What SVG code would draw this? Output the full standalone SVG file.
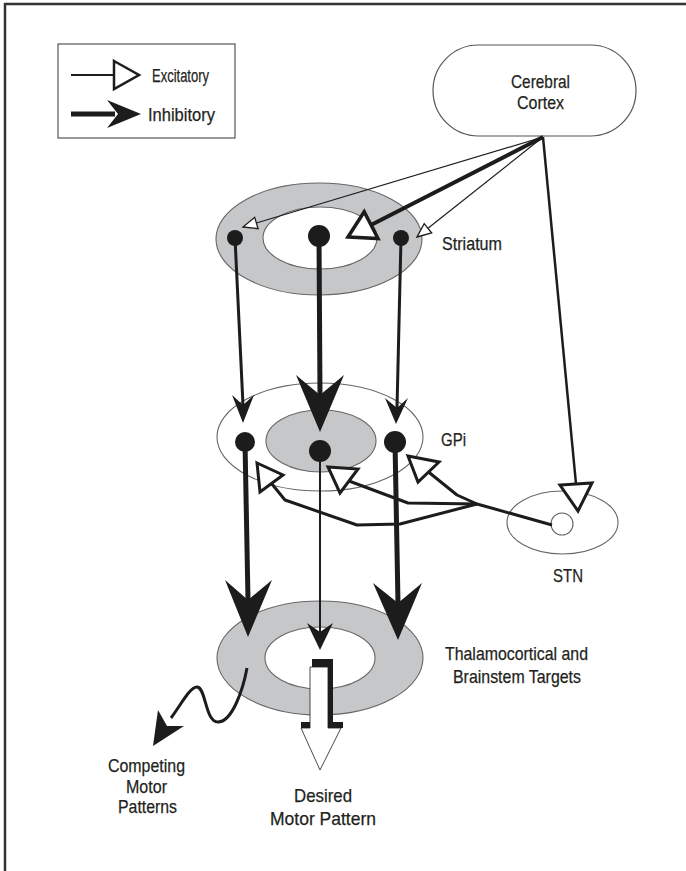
<svg xmlns="http://www.w3.org/2000/svg" width="686" height="871" viewBox="0 0 686 871">
<style>
.t{font-family:"Liberation Sans Narrow","Liberation Sans",Arial,sans-serif;font-size:19px;fill:#231f20;stroke:#231f20;stroke-width:0.25}
.ol{stroke:#666;stroke-width:1.1}
.g{fill:#c6c7c9}
.w{fill:#fff}
.dot{fill:#1c1c1c}
.ln{stroke:#1c1c1c;fill:none;stroke-linecap:butt}
.hd{fill:#1c1c1c}
.ex{fill:#fff;stroke:#1c1c1c;stroke-linejoin:miter}
</style>
<rect x="0" y="0" width="686" height="871" fill="#fff"/>
<path d="M4,4 H686 M5,3 V871" stroke="#333" stroke-width="2.5" fill="none"/>
<g id="legend">
<rect x="58" y="44" width="177" height="94" fill="#fff" stroke="#555" stroke-width="1.2"/>
<line x1="71" y1="75" x2="114" y2="75" class="ln" stroke-width="2"/>
<polygon points="114,61 139,75 114,89" class="ex" stroke-width="2.5"/>
<text x="152" y="82" class="t" textLength="57" lengthAdjust="spacingAndGlyphs">Excitatory</text>
<line x1="71" y1="114" x2="115" y2="114" class="ln" stroke-width="5"/>
<polygon points="141,114 107,100 118,114 107,128" class="hd"/>
<text x="148" y="121" class="t" textLength="67" lengthAdjust="spacingAndGlyphs">Inhibitory</text>
</g>
<g id="cortex">
<rect x="433" y="45" width="203" height="91" rx="45.5" ry="45.5" fill="#fff" stroke="#555" stroke-width="1.2"/>
<text x="511" y="88" class="t" textLength="59" lengthAdjust="spacingAndGlyphs">Cerebral</text>
<text x="517" y="109" class="t" textLength="47" lengthAdjust="spacingAndGlyphs">Cortex</text>
</g>
<g id="striatum">
<ellipse cx="319" cy="239" rx="103" ry="56" class="g ol"/>
<ellipse cx="320" cy="238" rx="57" ry="31" class="w ol"/>
<circle cx="235" cy="238" r="8" class="dot"/>
<circle cx="319" cy="236" r="11" class="dot"/>
<circle cx="401" cy="238" r="8" class="dot"/>
<text x="442" y="250" class="t" textLength="60" lengthAdjust="spacingAndGlyphs">Striatum</text>
</g>
<g id="gpi">
<ellipse cx="320" cy="437" rx="103" ry="54" class="w ol"/>
<ellipse cx="321" cy="441" rx="55" ry="31" class="g ol"/>
<circle cx="245" cy="442" r="10" class="dot"/>
<circle cx="320" cy="451" r="11" class="dot"/>
<circle cx="395" cy="442" r="11" class="dot"/>
<text x="441" y="446" class="t" textLength="25" lengthAdjust="spacingAndGlyphs">GPi</text>
</g>
<g id="stn">
<ellipse cx="562.5" cy="522.5" rx="55.5" ry="31.5" class="w ol"/>
<circle cx="562" cy="524" r="11" class="w ol"/>
<text x="553" y="582" class="t" textLength="30" lengthAdjust="spacingAndGlyphs">STN</text>
</g>
<g id="thalamus">
<ellipse cx="320" cy="658" rx="103" ry="57" class="g ol"/>
<ellipse cx="320" cy="658" rx="55" ry="31" class="w ol"/>
<text x="445" y="660" class="t" textLength="143" lengthAdjust="spacingAndGlyphs">Thalamocortical and</text>
<text x="453" y="683" class="t" textLength="128" lengthAdjust="spacingAndGlyphs">Brainstem Targets</text>
</g>
<g id="competing">
<text x="108" y="772" class="t" textLength="77" lengthAdjust="spacingAndGlyphs">Competing</text>
<text x="126" y="793" class="t" textLength="41" lengthAdjust="spacingAndGlyphs">Motor</text>
<text x="118" y="813" class="t" textLength="59" lengthAdjust="spacingAndGlyphs">Patterns</text>
</g>
<g id="desired">
<text x="294" y="802" class="t" textLength="58" lengthAdjust="spacingAndGlyphs">Desired</text>
<text x="270" y="825" class="t" textLength="106" lengthAdjust="spacingAndGlyphs">Motor Pattern</text>
</g>
<g id="connectors">
<line x1="543" y1="137" x2="256.4" y2="223" class="ln" stroke-width="1.2"/>
<polygon points="243,227 258.1,228.7 254.7,217.3" class="ex" stroke-width="1.3"/>
<line x1="543" y1="137" x2="371" y2="225" class="ln" stroke-width="4"/>
<polygon points="348,237 378,238.5 364.2,211.7" class="ex" stroke-width="3.5"/>
<line x1="543" y1="137" x2="428" y2="228.3" class="ln" stroke-width="1.2"/>
<polygon points="417,237 431.7,233 424.2,223.6" class="ex" stroke-width="1.3"/>
<line x1="543" y1="137" x2="576" y2="484" class="ln" stroke-width="2.5"/>
<polygon points="578,511 592,483 560,485" class="ex" stroke-width="3"/>
<line x1="235" y1="238" x2="243" y2="405" class="ln" stroke-width="3"/>
<polygon points="243,423 232,395 243,405 254,395" class="hd"/>
<line x1="319" y1="236" x2="320" y2="395" class="ln" stroke-width="5"/>
<polygon points="320,432 296,375 320,395 344,375" class="hd"/>
<line x1="401" y1="238" x2="397" y2="408" class="ln" stroke-width="3"/>
<polygon points="396,424 385,398 397,408 408,398" class="hd"/>
<line x1="245" y1="442" x2="248" y2="600" class="ln" stroke-width="5"/>
<polygon points="248,637 225,580 248,600 272,580" class="hd"/>
<line x1="320" y1="451" x2="320" y2="632" class="ln" stroke-width="2"/>
<polygon points="320,650 307,623 320,632 333,623" class="hd"/>
<line x1="395" y1="442" x2="398" y2="603" class="ln" stroke-width="5"/>
<polygon points="398,640 373,583 398,603 422,583" class="hd"/>
<path d="M552,525 L477,504 L457,495 L428.5,472" class="ln" stroke-width="3" stroke-linejoin="round"/>
<path d="M477,504 L408,503 L349,481" class="ln" stroke-width="3" stroke-linejoin="round"/>
<path d="M477,504 L400,524 L357,525 L285,500 L271.5,483.5" class="ln" stroke-width="3" stroke-linejoin="round"/>
<polygon points="408,456 439,462 418,482" class="ex" stroke-width="3"/>
<polygon points="328,467 358,469 340,493" class="ex" stroke-width="3"/>
<polygon points="257,463 283,475 260,492" class="ex" stroke-width="3"/>
<path d="M247,668 C243,690 232,722 218,722 C205,722 206,687 197,687 C190,687 182,703 171,718" class="ln" stroke-width="3"/>
<polygon points="153,746 158,710 167,726 184,726" class="hd"/>
<polygon points="312,659 333,659 333,722 343,722 343,728 301,728 301,722 312,722" fill="#1c1c1c"/>
<polygon points="310,667 328,667 328,728 341,728 320,770 301,728 310,728" fill="#fff" stroke="#1c1c1c" stroke-width="0.8"/>
</g>
</svg>
